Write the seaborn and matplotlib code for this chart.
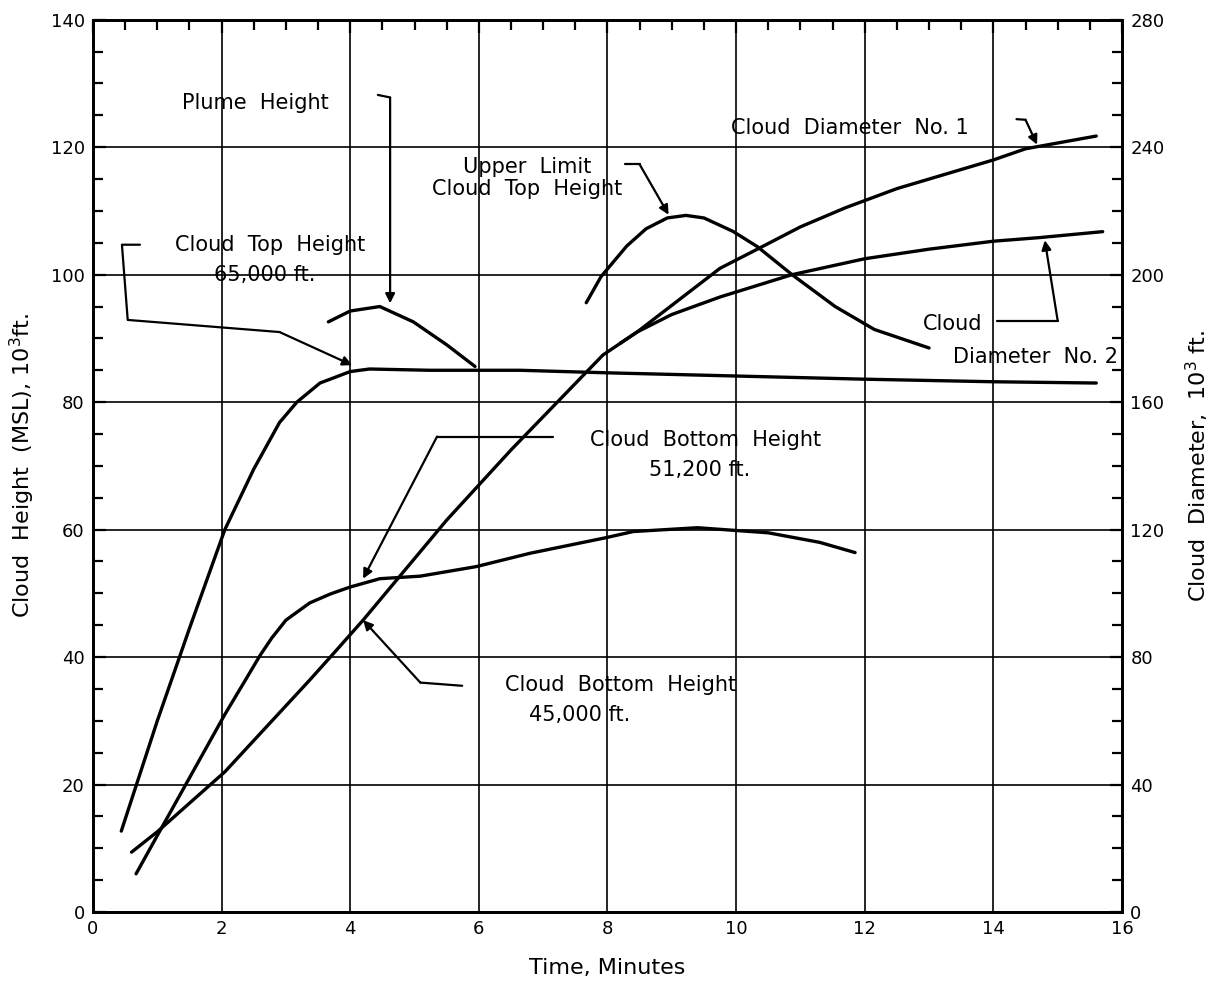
import matplotlib
matplotlib.use("Agg")
import matplotlib.pyplot as plt
import numpy as np
import seaborn as sns

# cloud top height (left axis, 10^3 ft)
top_t = [0.44, 1.0, 1.5, 2.05, 2.5, 2.9, 3.17, 3.53, 4.0, 4.3, 5.24, 6.64, 8.0, 10.0, 12.0, 14.0, 15.6]
top_h = [12.7, 30.0, 44.5, 60.0, 69.5, 76.8, 80.0, 83.0, 84.8, 85.2, 85.0, 85.0, 84.6, 84.1, 83.6, 83.2, 83.0]

# plume height (left axis)
plume_t = [3.66, 4.0, 4.46, 4.98, 5.5, 5.94]
plume_h = [92.6, 94.3, 95.0, 92.6, 89.0, 85.6]

# upper limit cloud top height (left axis)
upper_t = [7.67, 7.9, 8.3, 8.6, 8.93, 9.22, 9.5, 9.95, 10.33, 10.87, 11.54, 12.15, 13.0]
upper_h = [95.6, 99.7, 104.5, 107.2, 108.9, 109.3, 108.9, 106.8, 104.4, 100.0, 95.0, 91.4, 88.5]

# cloud bottom height (left axis)
bottom_t = [0.67, 1.0, 2.05, 2.37, 2.6, 2.78, 3.0, 3.37, 3.69, 4.0, 4.46, 5.09, 5.96, 6.8, 7.96, 8.4, 9.4, 10.5, 11.3, 11.85]
bottom_h = [6.0, 12.0, 31.0, 36.4, 40.3, 43.0, 45.8, 48.5, 49.9, 51.0, 52.3, 52.7, 54.2, 56.3, 58.7, 59.7, 60.3, 59.5, 58.0, 56.4]

# cloud diameters (right axis, 10^3 ft)
diam1_t = [0.6, 1.0, 2.05, 3.37, 3.69, 4.2, 5.5, 6.5, 7.68, 7.93, 8.46, 9.75, 10.33, 11.0, 11.7, 12.5, 13.0, 14.0, 14.5, 15.6]
diam1_d = [18.8, 25.2, 44.0, 72.8, 80.0, 91.6, 123.0, 145.0, 169.6, 174.8, 182.0, 202.0, 208.0, 215.0, 221.0, 227.0, 230.0, 236.0, 239.5, 243.5]
diam2_t = [8.2, 8.46, 9.0, 9.75, 10.87, 12.0, 13.0, 14.0, 14.7, 15.7]
diam2_d = [178.5, 182.0, 187.5, 193.0, 200.0, 205.0, 208.0, 210.5, 211.6, 213.5]

x_ticks = [0, 2, 4, 6, 8, 10, 12, 14, 16]
left_ticks = [0, 20, 40, 60, 80, 100, 120, 140]
right_ticks = [0, 40, 80, 120, 160, 200, 240, 280]

sns.set_style("white")
plt.rcParams['font.family'] = ['DejaVu Sans']

fig = plt.figure(figsize=(12.14, 9.86), dpi=100)
ax = fig.add_axes([0.0766, 0.075, 0.8476, 0.905])
ax2 = ax.twinx()

lw = 2.4
kw = dict(color='black', linewidth=lw, sort=False, estimator=None, legend=False)
sns.lineplot(x=top_t, y=top_h, ax=ax, **kw)
sns.lineplot(x=plume_t, y=plume_h, ax=ax, **kw)
sns.lineplot(x=upper_t, y=upper_h, ax=ax, **kw)
sns.lineplot(x=bottom_t, y=bottom_h, ax=ax, **kw)
sns.lineplot(x=diam1_t, y=diam1_d, ax=ax2, **kw)
sns.lineplot(x=diam2_t, y=diam2_d, ax=ax2, **kw)

ax.set_xlim(0, 16)
ax.set_ylim(0, 140)
ax2.set_ylim(0, 280)
ax.set_xticks(x_ticks)
ax.set_yticks(left_ticks)
ax2.set_yticks(right_ticks)
ax.set_xticks(np.arange(0, 16.01, 0.5), minor=True)
ax.set_yticks(np.arange(0, 140.01, 5), minor=True)
ax2.set_yticks(np.arange(0, 280.01, 10), minor=True)
ax.grid(True, which='major', color='black', linewidth=1.2)
ax2.grid(False)

for a in (ax, ax2):
    for s in a.spines.values():
        s.set_linewidth(2.0)
        s.set_color('black')
ax.tick_params(which='both', direction='in', top=True, right=False, colors='black',
               labelsize=13, width=1.6)
ax.tick_params(which='major', length=9, pad=6)
ax.tick_params(which='minor', length=7)
ax2.tick_params(which='both', direction='in', left=False, right=True, colors='black',
                labelsize=13, width=1.6)
ax2.tick_params(which='major', length=9, pad=6)
ax2.tick_params(which='minor', length=7)

ax.set_xlabel('Time, Minutes', fontsize=16, labelpad=14, color='black')
ax.set_ylabel('Cloud  Height  (MSL), 10$^3$ft.', fontsize=16, labelpad=10, color='black')
ax2.set_ylabel('Cloud  Diameter,  10$^3$ ft.', fontsize=16, labelpad=14, color='black')

tk = dict(fontsize=15, color='black', ha='center', va='center')
ax.text(2.52, 127, 'Plume  Height', **tk)
ax.text(6.75, 115.2, 'Upper  Limit\nCloud  Top  Height', linespacing=1.1, **tk)
ax.text(11.77, 123, 'Cloud  Diameter  No. 1', **tk)
ax.text(13.37, 92.2, 'Cloud', **tk)
ax.text(14.65, 87.1, 'Diameter  No. 2', **tk)
ax.text(2.75, 104.7, 'Cloud  Top  Height', **tk)
ax.text(2.67, 100.0, '65,000 ft.', **tk)
ax.text(9.52, 74.1, 'Cloud  Bottom  Height', **tk)
ax.text(9.44, 69.4, '51,200 ft.', **tk)
ax.text(8.2, 35.6, 'Cloud  Bottom  Height', **tk)
ax.text(7.57, 30.9, '45,000 ft.', **tk)

# leader lines from labels to curves
leaders = [
    [(4.43, 128.2), (4.62, 127.8), (4.62, 95.5)],
    [(8.28, 117.3), (8.5, 117.3), (8.95, 109.4)],
    [(14.36, 124.4), (14.5, 124.3), (14.68, 120.4)],
    [(14.05, 92.8), (15.0, 92.8), (14.8, 105.4)],
    [(0.73, 104.7), (0.45, 104.7), (0.54, 92.9), (2.9, 91.0), (4.03, 85.8)],
    [(7.15, 74.6), (5.35, 74.6), (4.2, 52.3)],
    [(5.74, 35.5), (5.09, 36.0), (4.2, 45.8)],
]
for pts in leaders:
    xs = [p[0] for p in pts]
    ys = [p[1] for p in pts]
    ax.plot(xs[:-1], ys[:-1], color='black', linewidth=1.6)
    ax.annotate('', xy=pts[-1], xytext=pts[-2],
                arrowprops=dict(arrowstyle='-|>', color='black', lw=1.6,
                                mutation_scale=14, shrinkA=0, shrinkB=0))

fig.savefig('out.png', dpi=100)
